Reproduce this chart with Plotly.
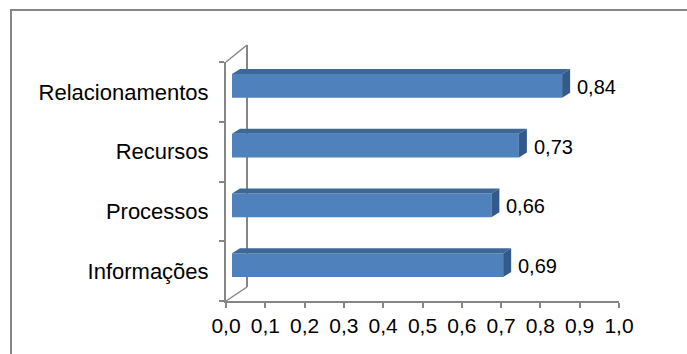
import plotly.graph_objects as go

# ---- data ----
categories = ["Informações", "Processos", "Recursos", "Relacionamentos"]
values = [0.69, 0.66, 0.73, 0.84]
x_ticks = [0.0, 0.1, 0.2, 0.3, 0.4, 0.5, 0.6, 0.7, 0.8, 0.9, 1.0]

# ---- layout constants (pixels) ----
W, H = 687, 354
FX0, FX1 = 226, 619      # front plane x axis (0 .. 1)
FY0, FY1 = 62, 301       # front plane category axis (top .. bottom)
BAR_DX, BAR_DY = 6, -6   # bar plane shift
BACK_DX, BACK_DY_TOP, BACK_DY_BOT = 21, -17, -14
DEPTH_X, DEPTH_Y = 8, 5  # bar depth in px
BAR_W = 0.4
AXIS_COL = "#868686"
FRONT = "#4F81BD"
TOP = "#3D6797"
SIDE = "#325A8A"
FONT = "Liberation Sans, Arial, sans-serif"

def px(x):
    return x / W

def py(y):
    return 1 - y / H

n = len(categories)
idx = list(range(n))
ux = DEPTH_X / (FX1 - FX0)             # depth in x data units
uy = DEPTH_Y / ((FY1 - FY0) / n)       # depth in category units

fig = go.Figure()

# invisible trace to anchor front axes
fig.add_trace(go.Scatter(x=[0], y=[0], mode="markers", marker=dict(opacity=0),
                         hoverinfo="skip", showlegend=False))

# 3D top and side faces (bar plane)
for i, v in zip(idx, values):
    top = i + BAR_W / 2
    bot = i - BAR_W / 2
    fig.add_trace(go.Scatter(
        x=[0, v, v + ux, ux, 0], y=[top, top, top + uy, top + uy, top],
        fill="toself", fillcolor=TOP, mode="lines", line=dict(width=0),
        xaxis="x2", yaxis="y2", hoverinfo="skip", showlegend=False))
    fig.add_trace(go.Scatter(
        x=[v, v + ux, v + ux, v, v], y=[bot, bot + uy, top + uy, top, bot],
        fill="toself", fillcolor=SIDE, mode="lines", line=dict(width=0),
        xaxis="x2", yaxis="y2", hoverinfo="skip", showlegend=False))

# front faces
fig.add_trace(go.Bar(
    x=values, y=idx, orientation="h", width=BAR_W,
    marker=dict(color=FRONT, line=dict(width=0)),
    xaxis="x2", yaxis="y2", hoverinfo="skip", showlegend=False))

# value labels
annotations = []
for i, v in zip(idx, values):
    annotations.append(dict(
        x=v, y=i, xref="x2", yref="y2", xanchor="left", yanchor="middle",
        xshift=DEPTH_X + 5, yshift=-1, showarrow=False,
        text=f"{v:.2f}".replace(".", ","),
        font=dict(family=FONT, size=20, color="#000000")))

shapes = [
    # outer frame (extends past the right and bottom edges)
    dict(type="rect", xref="paper", yref="paper",
         x0=px(11), x1=px(W + 20), y0=py(H + 20), y1=py(10),
         line=dict(color=AXIS_COL, width=2)),
    # back wall vertical
    dict(type="line", xref="paper", yref="paper",
         x0=px(FX0 + BACK_DX), x1=px(FX0 + BACK_DX),
         y0=py(FY0 + BACK_DY_TOP), y1=py(FY1 + BACK_DY_BOT),
         line=dict(color=AXIS_COL, width=2), layer="below"),
    # depth diagonals
    dict(type="line", xref="paper", yref="paper",
         x0=px(FX0), x1=px(FX0 + BACK_DX), y0=py(FY0), y1=py(FY0 + BACK_DY_TOP),
         line=dict(color=AXIS_COL, width=1.5)),
    dict(type="line", xref="paper", yref="paper",
         x0=px(FX0), x1=px(FX0 + BACK_DX), y0=py(FY1), y1=py(FY1 + BACK_DY_BOT),
         line=dict(color=AXIS_COL, width=1.5), layer="below"),
]

fig.update_layout(
    width=W, height=H, margin=dict(l=0, r=0, t=0, b=0, autoexpand=False),
    paper_bgcolor="white", plot_bgcolor="rgba(0,0,0,0)",
    separators=", ",
    font=dict(family=FONT, size=20, color="#000000"),
    xaxis=dict(domain=[px(FX0), px(FX1)], range=[0, 1], tickvals=x_ticks,
               tickformat=".1f", ticks="outside", ticklen=5, tickwidth=2,
               tickcolor=AXIS_COL, showline=True, linewidth=2, linecolor=AXIS_COL,
               showgrid=False, zeroline=False, anchor="y", automargin=False,
               tickfont=dict(size=21), fixedrange=True),
    yaxis=dict(domain=[py(FY1), py(FY0)], range=[-0.5, n - 0.5],
               tickvals=idx, ticktext=categories, ticks="", showline=True,
               linewidth=2, linecolor=AXIS_COL, showgrid=False, zeroline=False,
               minor=dict(tickvals=[k - 0.5 for k in range(n + 1)], ticks="outside",
                          ticklen=5, tickwidth=2, tickcolor=AXIS_COL, showgrid=False),
               ticklabelstandoff=11, tickfont=dict(size=22), anchor="x",
               automargin=False, fixedrange=True),
    xaxis2=dict(domain=[px(FX0 + BAR_DX), px(FX1 + BAR_DX)], range=[0, 1],
                visible=False, anchor="y2", automargin=False, fixedrange=True),
    yaxis2=dict(domain=[py(FY1 + BAR_DY), py(FY0 + BAR_DY)], range=[-0.5, n - 0.5],
                visible=False, anchor="x2", automargin=False, fixedrange=True),
    shapes=shapes,
    annotations=annotations,
)

fig.write_html("out.html")
